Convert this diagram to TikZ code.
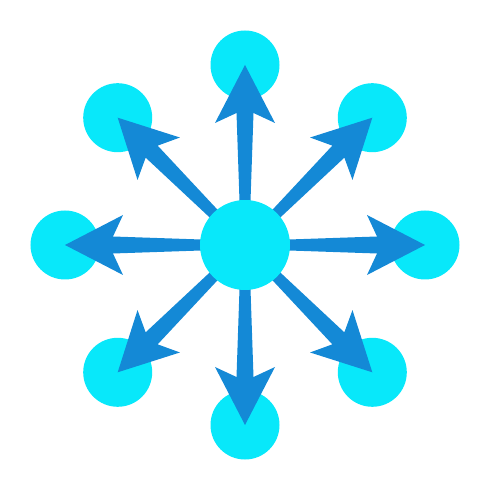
\documentclass[tikz,border=0pt]{standalone}
\usetikzlibrary{calc}
\definecolor{hubcyan}{RGB}{8,232,250}
\definecolor{spokeblue}{RGB}{20,137,214}
% tapered spoke from #1 to the centre of #2
\newcommand{\drawspoke}[2]{%
  \coordinate (n) at ($(#1)!2.64cm!(#2)$);
  \coordinate (b) at ($(#1)!2.44cm!(#2)$);
  \fill[spoke] ($(#1)!0.08cm!90:(#2)$) -- ($(n)!0.17cm!90:(#2)$) -- ($(b)!0.6cm!90:(#2)$)
    -- (#2.center) -- ($(b)!0.6cm!-90:(#2)$) -- ($(n)!0.17cm!-90:(#2)$)
    -- ($(#1)!0.08cm!-90:(#2)$) -- cycle;
}
\begin{document}
\begin{tikzpicture}[
  leaf/.style={circle, fill=hubcyan, inner sep=0pt, minimum size=1.38cm},
  hub/.style={circle, fill=hubcyan, inner sep=0pt, minimum size=1.8cm},
  spoke/.style={fill=spokeblue}
]
\useasboundingbox (-4.9,-4.9) rectangle (4.9,4.9);
\node[leaf] (top) at (0, 3.6) {};
\node[leaf] (topR) at (2.546, 2.546) {};
\node[leaf] (right) at (3.6, 0) {};
\node[leaf] (botR) at (2.546, -2.546) {};
\node[leaf] (bottom) at (0, -3.6) {};
\node[leaf] (botL) at (-2.546, -2.546) {};
\node[leaf] (left) at (-3.6, 0) {};
\node[leaf] (topL) at (-2.546, 2.546) {};
\coordinate (c) at (0, 0);
\drawspoke{c}{top}
\drawspoke{c}{topR}
\drawspoke{c}{right}
\drawspoke{c}{botR}
\drawspoke{c}{bottom}
\drawspoke{c}{botL}
\drawspoke{c}{left}
\drawspoke{c}{topL}
\node[hub] (centre) at (c) {};
\end{tikzpicture}
\end{document}
